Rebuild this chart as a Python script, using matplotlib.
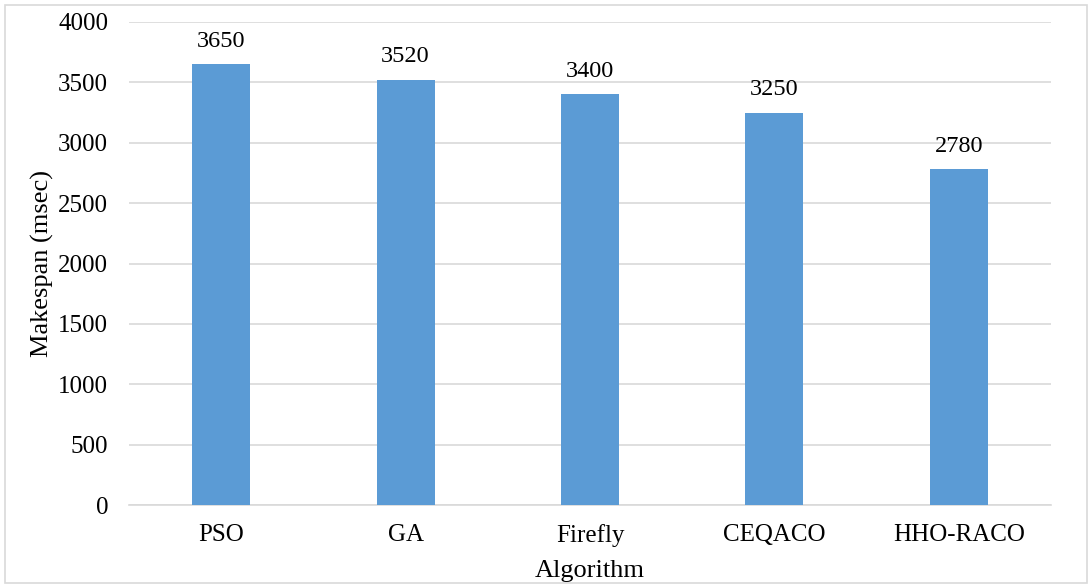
import matplotlib.pyplot as plt
from matplotlib.patches import Rectangle

algorithms = ["PSO", "GA", "Firefly", "CEQACO", "HHO-RACO"]
makespan = [3650, 3520, 3400, 3250, 2780]
y_ticks = [0, 500, 1000, 1500, 2000, 2500, 3000, 3500, 4000]

plt.rcParams["font.family"] = ["Liberation Serif", "DejaVu Serif"]

fig = plt.figure(figsize=(10.92, 5.85), dpi=100)
ax = fig.add_axes([129 / 1092, 1 - 505 / 585, 922 / 1092, 483 / 585])

bars = ax.bar(range(len(algorithms)), makespan, width=0.315, color="#5B9BD5", zorder=3)
for rect, val in zip(bars, makespan):
    ax.annotate(str(val), (rect.get_x() + rect.get_width() / 2, val),
                xytext=(0, 9), textcoords="offset points",
                ha="center", va="bottom", fontsize=17.5)

ax.set_xlim(-0.5, len(algorithms) - 0.5)
ax.set_ylim(0, 4000)
ax.set_yticks(y_ticks)
ax.set_xticks(range(len(algorithms)))
ax.set_xticklabels(algorithms)
ax.tick_params(axis="both", length=0, labelsize=18)
ax.tick_params(axis="y", pad=15)
ax.tick_params(axis="x", pad=14)
ax.grid(axis="y", color="#D9D9D9", linewidth=1.2, zorder=0)
for s in ["top", "right", "left"]:
    ax.spines[s].set_visible(False)
ax.spines["bottom"].set_color("#D9D9D9")
ax.spines["bottom"].set_linewidth(1.2)

ax.set_xlabel("Algorithm", fontsize=19, labelpad=9)
ax.set_ylabel("Makespan (msec)", fontsize=19, labelpad=3)

# thin frame around the whole chart
fig.patches.append(Rectangle((5 / 1092, 2 / 585), 1082 / 1092, 578 / 585,
                             transform=fig.transFigure, fill=False,
                             edgecolor="#D9D9D9", linewidth=1.2))

fig.savefig("out.png", dpi=100)
